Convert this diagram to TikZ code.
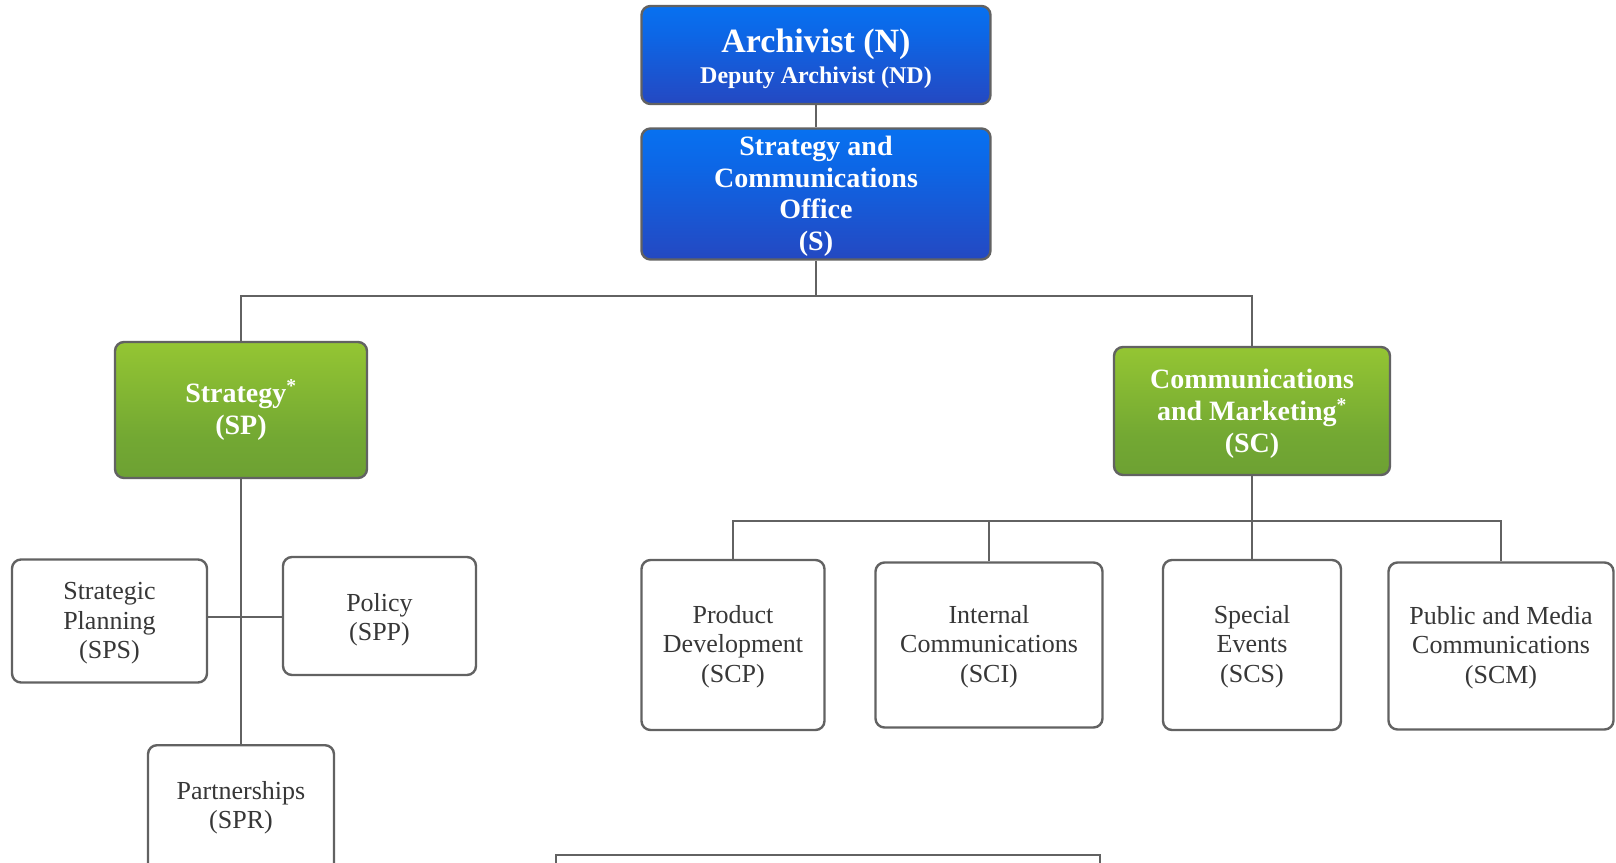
\documentclass[tikz,border=0pt]{standalone}
\usepackage{fontspec}
\setmainfont{Liberation Serif}
\definecolor{linegray}{RGB}{98,98,98}
\definecolor{txtgray}{RGB}{55,55,55}
\pgfdeclareverticalshading{blueshade}{100bp}{rgb(0bp)=(0.19,0.2,0.62); rgb(30bp)=(0.13,0.3,0.78); rgb(60bp)=(0.05,0.4,0.9); rgb(95bp)=(0.0,0.5,1.0); rgb(100bp)=(0.1,0.58,1.0)}
\pgfdeclareverticalshading{greenshade}{100bp}{rgb(0bp)=(0.39,0.58,0.2); rgb(40bp)=(0.45,0.66,0.2); rgb(80bp)=(0.6,0.79,0.2); rgb(94bp)=(0.66,0.84,0.28); rgb(100bp)=(0.78,0.93,0.5)}
\tikzset{
  conn/.style={draw=linegray, line width=2.6pt},
  bluebox/.style={draw=linegray, line width=2.4pt, rounded corners=9pt, shading=blueshade, text=white, font=\bfseries\fontsize{28}{31.5}\selectfont, align=center, inner sep=0pt},
  greenbox/.style={draw=linegray, line width=2.4pt, rounded corners=9pt, shading=greenshade, text=white, font=\bfseries\fontsize{28}{32}\selectfont, align=center, inner sep=0pt},
  whitebox/.style={draw=linegray, line width=2.4pt, rounded corners=9pt, fill=white, text=txtgray, font=\fontsize{26}{29.3}\selectfont, align=center, inner sep=0pt},
}
\begin{document}
\begin{tikzpicture}[x=1pt,y=-1pt]
\useasboundingbox (0,0) rectangle (1616,862);
\clip (0,0) rectangle (1616,862);
\coordinate (b1) at (0,296);
\coordinate (b2) at (0,521);
\coordinate (b3) at (0,617);
\node[bluebox, minimum width=349pt, minimum height=98pt] (N) at (816,55) {{\fontsize{34}{36}\selectfont\rule{0pt}{31pt}Archivist (N)}\\[-1pt]{\fontsize{24}{26}\selectfont Deputy Archivist (ND)}};
\node[bluebox, minimum width=349pt, minimum height=131pt] (S) at (816,194) {\rule{0pt}{24pt}Strategy and\\Communications\\Office\\(S)};
\node[greenbox, minimum width=252pt, minimum height=136pt] (SP) at (241,410) {Strategy\textsuperscript{*}\\(SP)};
\node[greenbox, minimum width=276pt, minimum height=128pt] (SC) at (1252,411) {\rule{0pt}{25pt}Communications\\and Marketing\textsuperscript{*}\\(SC)};
\node[whitebox, minimum width=195pt, minimum height=123pt] (SPS) at (109.5,621) {\rule{0pt}{22pt}Strategic\\Planning\\(SPS)};
\node[whitebox, minimum width=193pt, minimum height=118pt] (SPP) at (379.5,616) {\rule{0pt}{25pt}Policy\\(SPP)};
\node[whitebox, minimum width=186pt, minimum height=140pt, anchor=north] (SPR) at (241,744) {};
\node[text=txtgray, font=\fontsize{26}{29.3}\selectfont, align=center, inner sep=0pt] (SPRt) at (241,808) {Partnerships\\(SPR)};
\node[whitebox, minimum width=183pt, minimum height=170pt] (SCP) at (733,645) {\rule{0pt}{21pt}Product\\Development\\(SCP)};
\node[whitebox, minimum width=227pt, minimum height=165pt] (SCI) at (989,645) {\rule{0pt}{21pt}Internal\\Communications\\(SCI)};
\node[whitebox, minimum width=178pt, minimum height=170pt] (SCS) at (1252,645) {\rule{0pt}{21pt}Special\\Events\\(SCS)};
\node[whitebox, minimum width=225pt, minimum height=167pt] (SCM) at (1501,646) {\rule{0pt}{21pt}Public and Media\\Communications\\(SCM)};
\node[draw=linegray, line width=2.4pt, fill=white, minimum width=544pt, minimum height=60pt, inner sep=0pt] (next) at (828,885) {};
\draw[conn] (N.south) -- (S.north);
\draw[conn] (S.south) -- (S.south |- b1);
\draw[conn] (SP.north) -- (SP.north |- b1) -| (SC.north);
\draw[conn] (SP.south) -- (SPR.north);
\draw[conn] (SPS.east |- b3) -- (SPP.west |- b3);
\draw[conn] (SC.south) -- (SCS.north);
\draw[conn] (SCP.north) -- (SCP.north |- b2) -| (SCM.north);
\draw[conn] (SCI.north) -- (SCI.north |- b2);
\end{tikzpicture}
\end{document}
